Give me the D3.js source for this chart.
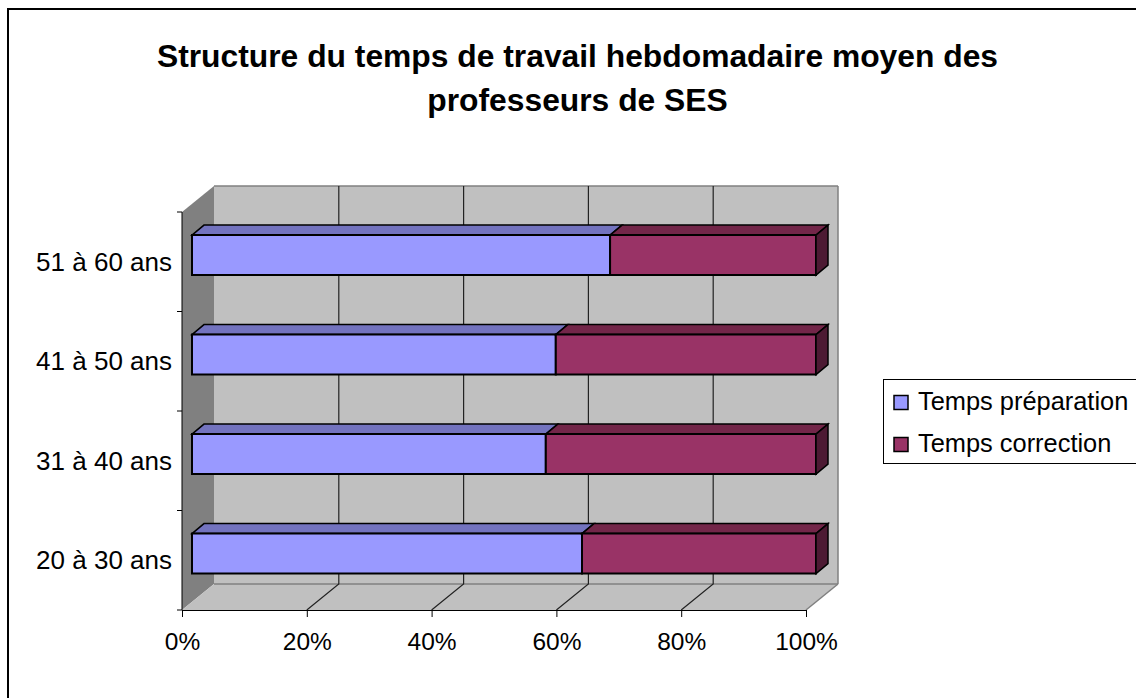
<!DOCTYPE html>
<html><head><meta charset="utf-8">
<script src="https://cdnjs.cloudflare.com/ajax/libs/d3/7.8.5/d3.min.js"></script>
<style>html,body{margin:0;padding:0;background:#fff;overflow:hidden}svg{display:block}text{font-family:"Liberation Sans",Arial,sans-serif;fill:#000}</style>
</head><body><script>
const categories = ["20 à 30 ans","31 à 40 ans","41 à 50 ans","51 à 60 ans"];
const seriesNames = ["Temps préparation","Temps correction"];
const prepShare = [62.5,56.7,58.3,67];
const corrShare = [37.5,43.3,41.7,33];
const xTicks = [0,20,40,60,80,100];
const titleLines = ["Structure du temps de travail hebdomadaire moyen des","professeurs de SES"];
const colors = ["#9999ff","#993366"];
const topColors = ["#7373bf","#732649"];
const sideColor = "#4d1a33";

const W=1136,H=698;
const svg=d3.select("body").append("svg").attr("width",W).attr("height",H);
svg.append("rect").attr("x",8).attr("y",9).attr("width",1140).attr("height",720).attr("fill","#fff").attr("stroke","#000").attr("stroke-width",2);

svg.selectAll("text.t").data(titleLines).join("text").attr("class","t")
 .attr("x",577.5).attr("y",(d,i)=>67+i*44).attr("text-anchor","middle")
 .attr("font-size",31.8).attr("font-weight","bold").text(d=>d);

const x=d3.scaleLinear().domain([0,100]).range([182,806]);
const y=d3.scaleBand().domain(categories).range([610,212]).padding(0);
const wall=[32,-26], barOff=[10,-6.7], bd=[12,-10];
const barH=40;
const line=d3.line();
const poly=(pts,fill,stroke,sw)=>svg.append("path").attr("d",line(pts)+"Z").attr("fill",fill).attr("stroke",stroke||"none").attr("stroke-width",sw||0).attr("stroke-linejoin","miter");

// walls
poly([[x(0),y.range()[1]],[x(0)+wall[0],y.range()[1]+wall[1]],[x(0)+wall[0],y.range()[0]+wall[1]],[x(0),y.range()[0]]],"#808080");
poly([[x(0)+wall[0],212+wall[1]],[x(100)+wall[0],212+wall[1]],[x(100)+wall[0],610+wall[1]],[x(0)+wall[0],610+wall[1]]],"#c0c0c0");
poly([[x(0),610],[x(100),610],[x(100)+wall[0],610+wall[1]],[x(0)+wall[0],610+wall[1]]],"#c0c0c0");
// gray edges
const grey=(a,b,w)=>svg.append("line").attr("x1",a[0]).attr("y1",a[1]).attr("x2",b[0]).attr("y2",b[1]).attr("stroke","#808080").attr("stroke-width",w||1.5);
grey([x(0)+wall[0],212+wall[1]],[x(100)+wall[0],212+wall[1]]);
grey([x(100)+wall[0],212+wall[1]],[x(100)+wall[0],610+wall[1]]);
grey([x(0)+wall[0],610+wall[1]],[x(100)+wall[0],610+wall[1]]);
grey([x(100),610],[x(100)+wall[0],610+wall[1]]);
// grid
xTicks.slice(1,-1).forEach(t=>{
 svg.append("path").attr("fill","none").attr("stroke","#222").attr("stroke-width",1.2)
  .attr("d",line([[x(t),610],[x(t)+wall[0],610+wall[1]],[x(t)+wall[0],212+wall[1]]]));
});
// axes
const ax=d3.axisBottom(x).tickValues(xTicks).tickFormat(d=>d+"%").tickSize(7).tickSizeOuter(0);
const gx=svg.append("g").attr("transform","translate(0,610)").call(ax);
gx.select(".domain").attr("stroke","#000");
gx.attr("font-family",null).attr("font-size",null);
gx.selectAll("text").attr("font-size",24.5).attr("dy",0).attr("y",40);
const gyLine=svg.append("g");
gyLine.append("path").attr("d",line([[x(0),212],[x(0),610]])).attr("stroke","#000").attr("fill","none");
[...y.domain().map(c=>y(c)+y.bandwidth()),212].forEach(v=>gyLine.append("line").attr("x1",x(0)-5).attr("x2",x(0)).attr("y1",v).attr("y2",v).attr("stroke","#000"));
svg.selectAll("text.c").data(categories).join("text").attr("class","c")
 .attr("x",172).attr("y",c=>y(c)+y.bandwidth()/2+9).attr("text-anchor","end").attr("font-size",26).text(c=>c);

const drawBar=(c,i)=>{
 const cy=y(c)+y.bandwidth()/2+barOff[1];
 const t=cy-barH/2,b=cy+barH/2;
 let start=0;
 [prepShare[i],corrShare[i]].forEach((v,s)=>{
  const x0=x(start)+barOff[0],x1=x(start+v)+barOff[0];
  poly([[x0,t],[x0+bd[0],t+bd[1]],[x1+bd[0],t+bd[1]],[x1,t]],topColors[s],"#000",1.5);
  poly([[x0,t],[x1,t],[x1,b],[x0,b]],colors[s],"#000",2);
  if(s===1) poly([[x1,t],[x1+bd[0],t+bd[1]],[x1+bd[0],b+bd[1]],[x1,b]],sideColor,"#000",1.5);
  start+=v;
 });
};
categories.forEach(drawBar);

// legend
const lg=svg.append("g");
lg.append("rect").attr("x",883.5).attr("y",379.5).attr("width",260).attr("height",84).attr("fill","#fff").attr("stroke","#000");
seriesNames.forEach((n,i)=>{
 const cy=402.5+i*42;
 lg.append("rect").attr("x",894).attr("y",cy-7).attr("width",14).attr("height",14).attr("fill",colors[i]).attr("stroke","#000").attr("stroke-width",1.5);
 lg.append("text").attr("x",918).attr("y",cy+7.5).attr("font-size",25.4).text(n);
});
</script></body></html>
